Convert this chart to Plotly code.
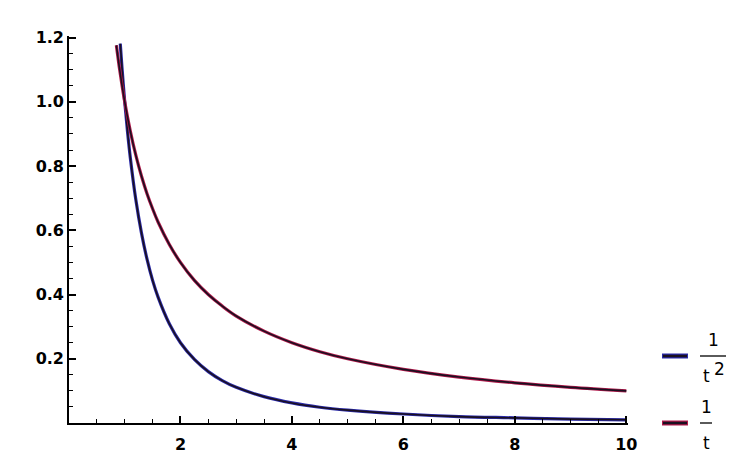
import plotly.graph_objects as go

# Data
t_inv = [0.85, 0.9, 0.95, 1.0, 1.1, 1.2, 1.3, 1.4, 1.5, 1.6, 1.8, 2.0, 2.25, 2.5, 2.75,
         3.0, 3.5, 4.0, 4.5, 5.0, 6.0, 7.0, 8.0, 9.0, 10.0]
v_inv = [1.176, 1.111, 1.053, 1.0, 0.909, 0.833, 0.769, 0.714, 0.667, 0.625, 0.556, 0.5,
         0.444, 0.4, 0.364, 0.333, 0.286, 0.25, 0.222, 0.2, 0.167, 0.143, 0.125, 0.111, 0.1]
t_sq = [0.92, 0.95, 1.0, 1.05, 1.1, 1.2, 1.3, 1.4, 1.5, 1.6, 1.8, 2.0, 2.25, 2.5, 2.75,
        3.0, 3.5, 4.0, 4.5, 5.0, 6.0, 7.0, 8.0, 9.0, 10.0]
v_sq = [1.181, 1.108, 1.0, 0.907, 0.826, 0.694, 0.592, 0.510, 0.444, 0.391, 0.309, 0.25,
        0.198, 0.16, 0.132, 0.111, 0.082, 0.0625, 0.049, 0.04, 0.028, 0.020, 0.016, 0.012, 0.01]

x_ticks = [2, 4, 6, 8, 10]
y_ticks = [0.2, 0.4, 0.6, 0.8, 1.0, 1.2]
y_labels = ["0.2", "0.4", "0.6", "0.8", "1.0", "1.2"]

BLUE = "#2a2aa8"
RED = "#b0184a"
DARK = "#1a1020"

W, H = 732, 468
L, R, T, B = 69, 104, 36, 45
PW, PH = W - L - R, H - T - B


def px(x):
    return (x - L) / PW


def py(y):
    return 1 - (y - T) / PH


fig = go.Figure()
for x, y, col in [(t_sq, v_sq, BLUE), (t_inv, v_inv, RED)]:
    fig.add_trace(go.Scatter(x=x, y=y, mode="lines", line=dict(color=col, width=3.2, shape="spline"),
                             showlegend=False, hoverinfo="skip"))
    fig.add_trace(go.Scatter(x=x, y=y, mode="lines", line=dict(color=DARK, width=1.6, shape="spline"),
                             showlegend=False, hoverinfo="skip"))

axis_common = dict(showgrid=False, zeroline=False, showline=True, linecolor="black", linewidth=1.6,
                   ticks="inside", ticklen=7, tickwidth=1.5, tickcolor="black", automargin=False,
                   tickfont=dict(family="DejaVu Sans", size=16, color="black", weight="bold"))

fig.update_xaxes(range=[0, 10.03], tickvals=x_ticks, ticktext=[str(v) for v in x_ticks],
                 ticklabelstandoff=6,
                 minor=dict(dtick=0.5, tick0=0, ticks="inside", ticklen=4, tickwidth=1.3, tickcolor="black"),
                 **axis_common)
fig.update_yaxes(range=[0, 1.205], tickvals=y_ticks, ticktext=y_labels,
                 minor=dict(dtick=0.05, tick0=0, ticks="inside", ticklen=4, tickwidth=1.3, tickcolor="black"),
                 **axis_common)

# Manual legend with stacked fractions
shapes = []
annotations = []
font = dict(family="DejaVu Sans", size=17, color="black")
legend_items = [(356, BLUE, True), (423, RED, False)]
for ypix, col, sq in legend_items:
    shapes.append(dict(type="line", xref="paper", yref="paper", x0=px(662), x1=px(688), y0=py(ypix), y1=py(ypix),
                       line=dict(color=col, width=5)))
    shapes.append(dict(type="line", xref="paper", yref="paper", x0=px(663), x1=px(687), y0=py(ypix), y1=py(ypix),
                       line=dict(color=DARK, width=2.5)))
    bar_end = 726 if sq else 712
    shapes.append(dict(type="line", xref="paper", yref="paper", x0=px(700), x1=px(bar_end), y0=py(ypix), y1=py(ypix),
                       line=dict(color="black", width=1.3)))
    annotations.append(dict(xref="paper", yref="paper", x=px(713 if sq else 706), y=py(ypix - 16),
                            text="1", showarrow=False, font=font, xanchor="center", yanchor="middle"))
    annotations.append(dict(xref="paper", yref="paper", x=px(706), y=py(ypix + 20),
                            text="t", showarrow=False, font=font, xanchor="center", yanchor="middle"))
    if sq:
        annotations.append(dict(xref="paper", yref="paper", x=px(719), y=py(ypix + 13),
                                text="2", showarrow=False, font=font, xanchor="center", yanchor="middle"))

fig.update_layout(width=W, height=H, margin=dict(l=L, r=R, t=T, b=B, autoexpand=False),
                  plot_bgcolor="white", paper_bgcolor="white",
                  shapes=shapes, annotations=annotations, showlegend=False)

fig.write_html("out.html", config={"displayModeBar": False},
               post_script="document.body.style.margin='0';document.body.style.overflow='hidden';")
